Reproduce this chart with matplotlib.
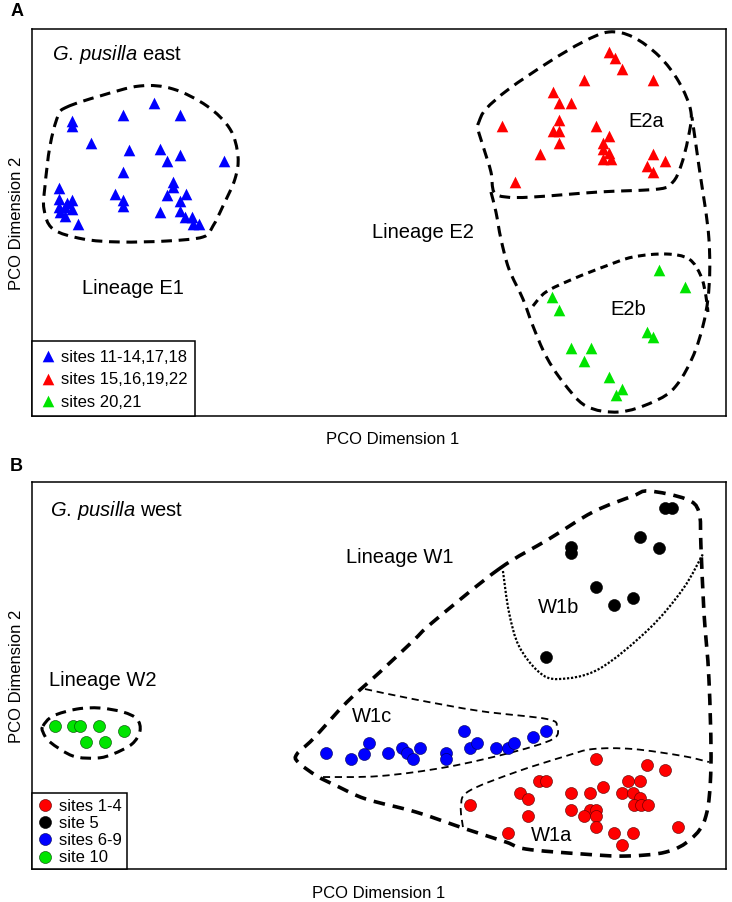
import numpy as np
import matplotlib
matplotlib.use("Agg")
from matplotlib import pyplot as plt
from matplotlib.path import Path
from matplotlib.patches import PathPatch

# PCO 散点图：G. pusilla 东部 / 西部

plt.rcParams['font.family'] = ['Liberation Sans', 'DejaVu Sans']
plt.rcParams['mathtext.fontset'] = 'custom'
plt.rcParams['mathtext.rm'] = 'Liberation Sans'
plt.rcParams['mathtext.it'] = 'Liberation Sans:italic'

# ---------- 数据 A: east ----------
east_blue_x = [122, 91, 148, 40, 40, 59, 97, 128, 148, 135, 192, 91, 141, 141, 135, 154, 148, 83, 91, 91,
               27, 27, 40, 27, 33, 40, 33, 46, 128, 148, 153, 160, 161, 167, 28, 35]
east_blue_y = [313, 301, 301, 295, 290, 273, 266, 267, 261, 255, 255, 244, 234, 229, 221, 222, 215, 222, 216, 210,
               228, 217, 216, 209, 209, 207, 200, 192, 204, 205, 199, 199, 192, 192, 204, 213]
east_red_x = [577, 583, 590, 552, 621, 521, 527, 539, 527, 470, 564, 521, 527, 527, 577, 571, 571, 577, 571, 579,
              508, 621, 633, 615, 621, 483]
east_red_y = [364, 358, 347, 336, 336, 324, 313, 313, 296, 290, 290, 285, 285, 273, 280, 273, 267, 263, 257, 257,
              262, 262, 255, 250, 244, 234]
east_green_x = [627, 653, 520, 527, 615, 621, 539, 559, 552, 577, 590, 584]
east_green_y = [146, 129, 119, 106, 84, 79, 68, 68, 55, 39, 27, 21]
east_labels = ["sites 11-14,17,18", "sites 15,16,19,22", "sites 20,21"]

hull_e1 = [(35, 309), (68, 320), (108, 330), (141, 327), (175, 310), (198, 287), (206, 260), (203, 237),
           (191, 210), (181, 190), (171, 179), (135, 175), (88, 174), (51, 177), (21, 187), (12, 207),
           (13, 230), (18, 270), (26, 300)]
hull_e2a = [(447, 294), (454, 307), (477, 327), (517, 354), (551, 374), (577, 384), (601, 379), (627, 360),
            (647, 334), (659, 304), (656, 277), (649, 250), (641, 234), (627, 227), (567, 224), (501, 219),
            (474, 219), (462, 224), (459, 244), (452, 267), (446, 287)]
hull_e2 = [(459, 224), (464, 204), (469, 177), (477, 147), (491, 117), (501, 90), (514, 60), (531, 34),
           (554, 10), (587, 4), (621, 14), (644, 30), (664, 67), (676, 117), (677, 177), (667, 250), (660, 299)]
hull_e2b = [(501, 110), (514, 124), (541, 137), (574, 150), (601, 159), (634, 162), (657, 157), (669, 140),
            (674, 120), (676, 104)]

# ---------- 数据 B: west ----------
west_red_x = [564, 615, 633, 507, 514, 596, 608, 488, 496, 539, 558, 571, 590, 601, 608, 602, 609, 616, 438,
              539, 558, 564, 552, 564, 496, 564, 646, 476, 582, 601, 590]
west_red_y = [110, 104, 99, 88, 88, 88, 88, 76, 70, 76, 76, 82, 76, 76, 71, 64, 64, 64, 64,
              59, 59, 59, 53, 53, 53, 42, 42, 36, 36, 36, 24]
west_black_x = [633, 640, 608, 627, 539, 539, 564, 582, 601, 514]
west_black_y = [361, 361, 332, 321, 322, 316, 282, 264, 271, 212]
west_blue_x = [294, 319, 332, 337, 356, 370, 375, 381, 388, 414, 414, 432, 438, 445, 464, 476, 482, 501, 514]
west_blue_y = [116, 110, 115, 126, 116, 121, 116, 110, 121, 116, 110, 138, 121, 126, 121, 121, 126, 132, 138]
west_green_x = [23, 41, 48, 67, 92, 54, 73]
west_green_y = [143, 143, 143, 143, 138, 127, 127]
west_labels = ["sites 1-4", "site 5", "sites 6-9", "site 10"]

hull_w2 = [(11, 143), (21, 153), (45, 160), (68, 161), (91, 157), (105, 150), (108, 138), (100, 125),
           (81, 115), (65, 111), (41, 113), (18, 127), (11, 137)]
hull_w1 = [(467, 300), (517, 330), (561, 357), (601, 373), (617, 378), (654, 370), (667, 357), (669, 323),
           (672, 257), (677, 190), (679, 103), (674, 53), (659, 30), (634, 17), (594, 13), (551, 15),
           (494, 20), (474, 27), (434, 40), (384, 57), (334, 70), (305, 83), (285, 93), (266, 107),
           (265, 115), (281, 130), (315, 167), (348, 197), (381, 228), (401, 247)]
hull_w1b = [(471, 298), (477, 257), (487, 223), (507, 197), (527, 190), (567, 200), (617, 240), (651, 280),
            (671, 315)]
hull_w1c = [(333, 180), (381, 170), (448, 158), (515, 150), (525, 142), (521, 130), (481, 117), (415, 102),
            (348, 93), (291, 92)]
hull_w1a = [(431, 42), (429, 63), (437, 78), (484, 97), (534, 113), (561, 120), (601, 120), (651, 113),
            (677, 107)]


def smooth_path(pts, closed):
    # Catmull-Rom -> 三次贝塞尔
    p = np.array(pts, dtype=float)
    n = len(p)
    verts = [p[0]]
    codes = [Path.MOVETO]
    segs = n if closed else n - 1
    for i in range(segs):
        if closed:
            p0, p1, p2, p3 = p[(i - 1) % n], p[i], p[(i + 1) % n], p[(i + 2) % n]
        else:
            p0 = p[max(i - 1, 0)]
            p1, p2 = p[i], p[i + 1]
            p3 = p[min(i + 2, n - 1)]
        c1 = p1 + (p2 - p0) / 6.0
        c2 = p2 - (p3 - p1) / 6.0
        verts += [c1, c2, p2]
        codes += [Path.CURVE4] * 3
    return Path(verts, codes)


def draw_hull(ax, pts, closed=True, lw=2.2, dashes=(3.5, 2.2)):
    patch = PathPatch(smooth_path(pts, closed), facecolor='none', edgecolor='black', lw=lw)
    patch.set_linestyle((0, dashes))
    ax.add_patch(patch)


fig = plt.figure(figsize=(7.32, 9.03), dpi=100)
ax1 = fig.add_axes([0.0437, 0.5382, 0.948, 0.4286])
ax2 = fig.add_axes([0.0437, 0.0365, 0.948, 0.4286])

green = '#00e400'

# ---------- A ----------
ax1.scatter(east_blue_x, east_blue_y, marker='^', s=70, color='#0000ff', lw=0, label=east_labels[0], zorder=3)
ax1.scatter(east_red_x, east_red_y, marker='^', s=70, color='#ff0000', lw=0, label=east_labels[1], zorder=3)
ax1.scatter(east_green_x, east_green_y, marker='^', s=70, color=green, lw=0, label=east_labels[2], zorder=3)

draw_hull(ax1, hull_e1)
draw_hull(ax1, hull_e2a)
draw_hull(ax1, hull_e2, closed=False)
draw_hull(ax1, hull_e2b, closed=False, dashes=(2.5, 1.8))

ax1.text(20, 362, r'$\mathit{G.\,pusilla}$ east', fontsize=14.5, va='center')
ax1.text(101, 128, "Lineage E1", fontsize=14.5, ha='center', va='center')
ax1.text(391, 184, "Lineage E2", fontsize=14.5, ha='center', va='center')
ax1.text(614, 295, "E2a", fontsize=14.5, ha='center', va='center')
ax1.text(596, 107, "E2b", fontsize=14.5, ha='center', va='center')

# ---------- B ----------
ax2.scatter(west_red_x, west_red_y, s=75, color='#ff0000', edgecolor='#550000', lw=0.4, label=west_labels[0], zorder=3)
ax2.scatter(west_black_x, west_black_y, s=75, color='black', lw=0.4, label=west_labels[1], zorder=3)
ax2.scatter(west_blue_x, west_blue_y, s=75, color='#0000ff', edgecolor='#000055', lw=0.4, label=west_labels[2], zorder=3)
ax2.scatter(west_green_x, west_green_y, s=75, color=green, edgecolor='#004400', lw=0.4, label=west_labels[3], zorder=3)

draw_hull(ax2, hull_w2)
draw_hull(ax2, hull_w1, lw=2.6, dashes=(3.2, 2.2))
draw_hull(ax2, hull_w1b, closed=False, lw=1.6, dashes=(1.0, 0.8))
draw_hull(ax2, hull_w1c, closed=False, lw=1.3, dashes=(4.0, 2.6))
draw_hull(ax2, hull_w1a, closed=False, lw=1.3, dashes=(4.0, 2.6))

ax2.text(18, 360, r'$\mathit{G.\,pusilla}$ west', fontsize=14.5, va='center')
ax2.text(71, 190, "Lineage W2", fontsize=14.5, ha='center', va='center')
ax2.text(368, 313, "Lineage W1", fontsize=14.5, ha='center', va='center')
ax2.text(527, 263, "W1b", fontsize=14.5, ha='center', va='center')
ax2.text(340, 154, "W1c", fontsize=14.5, ha='center', va='center')
ax2.text(520, 35, "W1a", fontsize=14.5, ha='center', va='center')

for ax, spacing, pad, xl in ((ax1, 0.45, 0.45, 0.519), (ax2, 0.13, 0.3, 0.5)):
    ax.set_xlim(0, 694)
    ax.set_ylim(0, 387)
    ax.set_xticks([])
    ax.set_yticks([])
    for s in ax.spines.values():
        s.set_linewidth(1.1)
    ax.set_xlabel("PCO Dimension 1", fontsize=12, labelpad=12)
    ax.xaxis.set_label_coords(xl, -0.04, transform=ax.transAxes)
    ax.xaxis.label.set_va('top')
    ax.set_ylabel("PCO Dimension 2", fontsize=12, labelpad=6)
    leg = ax.legend(loc='lower left', fontsize=12, borderaxespad=0, fancybox=False,
                    handletextpad=0.3, handlelength=1.0, labelspacing=spacing,
                    borderpad=pad, scatterpoints=1)
    leg.get_frame().set_edgecolor('black')
    leg.get_frame().set_linewidth(1.1)
    leg.get_frame().set_alpha(1)

fig.text(0.014, 0.987, "A", fontsize=13, fontweight='bold', va='center')
fig.text(0.014, 0.483, "B", fontsize=13, fontweight='bold', va='center')

plt.savefig("out.png", dpi=100)
